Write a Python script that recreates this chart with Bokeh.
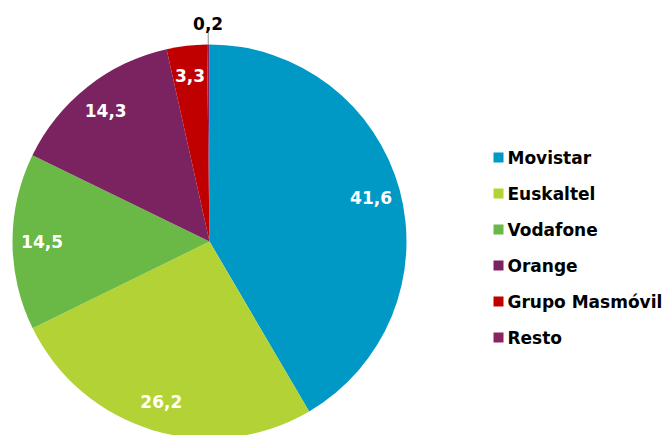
import numpy as np
from bokeh.plotting import figure
from bokeh.models import ColumnDataSource, Range1d
from bokeh.core.properties import value
from bokeh.embed import file_html
from bokeh.resources import INLINE

operators = ["Movistar", "Euskaltel", "Vodafone", "Orange", "Grupo Masmóvil", "Resto"]
shares = [41.6, 26.2, 14.5, 14.3, 3.3, 0.2]
share_labels = ["41,6", "26,2", "14,5", "14,3", "3,3", "0,2"]
colors = ["#0099C6", "#B3D235", "#6AB846", "#7B2360", "#C00000", "#8B2262"]

FONT = "DejaVu Sans"
W, H = 662, 435
CX, CY, R = 209, -241, 197

p = figure(width=W, height=H, x_range=Range1d(0, W), y_range=Range1d(-H, 0),
           output_backend="svg", toolbar_location=None, min_border=0)
p.axis.visible = False
p.grid.visible = False
p.outline_line_color = None
p.background_fill_color = "white"

vals = np.array(shares)
total = vals.sum()
cum = np.cumsum(vals)
prev = cum - vals
start = np.pi / 2 - 2 * np.pi * prev / total
end = np.pi / 2 - 2 * np.pi * cum / total
mid = (start + end) / 2

src = ColumnDataSource(dict(name=operators, start=start, end=end, color=colors))
p.wedge(x=CX, y=CY, radius=R, start_angle="start", end_angle="end",
        direction="clock", fill_color="color", line_color=None, source=src)

inside = vals >= 1
lab_r = 0.85 * R
in_src = ColumnDataSource(dict(
    x=CX + lab_r * np.cos(mid[inside]),
    y=CY + lab_r * np.sin(mid[inside]),
    t=[s for s, k in zip(share_labels, inside) if k]))
p.text(x="x", y="y", text="t", source=in_src, text_color="white",
       text_font=value(FONT), text_font_style="bold", text_font_size="17px",
       text_align="center", text_baseline="middle")

out_idx = [i for i, k in enumerate(inside) if not k]
for i in out_idx:
    a = mid[i]
    p.segment(x0=[CX + R * np.cos(a)], y0=[CY + R * np.sin(a)],
              x1=[CX + (R + 13) * np.cos(a)], y1=[CY + (R + 13) * np.sin(a)],
              line_color="#8c8c8c", line_width=1)
    p.text(x=[CX + (R + 21) * np.cos(a)], y=[CY + (R + 21) * np.sin(a)],
           text=[share_labels[i]], text_color="black",
           text_font=value(FONT), text_font_style="bold", text_font_size="17px",
           text_align="center", text_baseline="middle")

# legend
LX, LY0, LSTEP = 498, -157, 36
ly = [LY0 - LSTEP * i for i in range(len(operators))]
p.rect(x=[LX] * len(operators), y=ly, width=10, height=10, fill_color=colors, line_color=None)
p.text(x=[LX + 9] * len(operators), y=ly, text=operators, text_color="black",
       text_font=value(FONT), text_font_style="bold", text_font_size="17px",
       text_align="left", text_baseline="middle")

open("out.html", "w").write(file_html(p, INLINE))
